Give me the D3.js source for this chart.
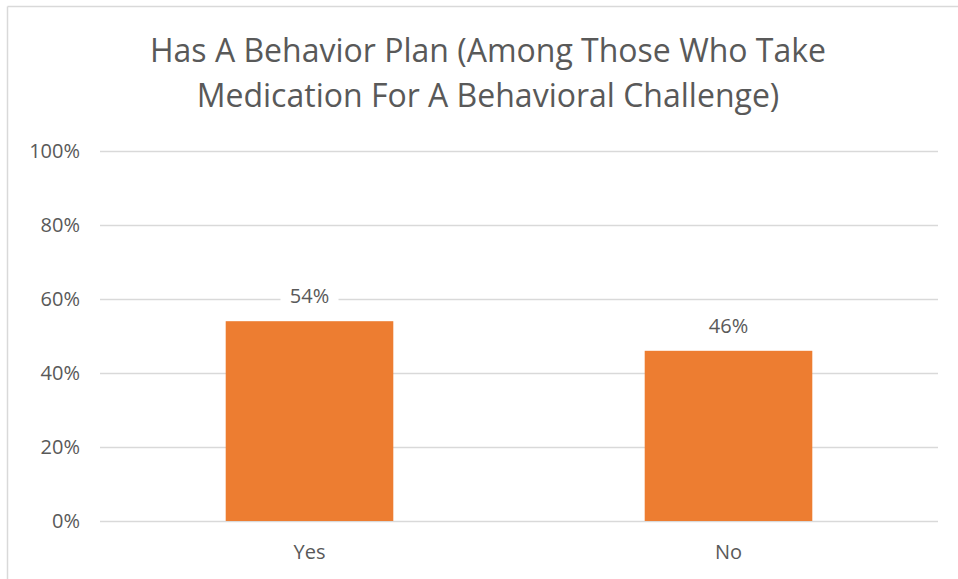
<!DOCTYPE html>
<html><head><meta charset="utf-8">
<script src="https://cdn.jsdelivr.net/npm/d3@7"></script>
<style>
html,body{margin:0;padding:0;background:#fff;}
svg{display:block;font-family:"Open Sans","Lato",sans-serif;}
</style></head>
<body>
<svg id="chart" width="958" height="579"></svg>
<script>
const categories = ["Yes", "No"];
const values = [0.54, 0.46];
const labels = ["54%", "46%"];
const yTicks = [0, 0.2, 0.4, 0.6, 0.8, 1.0];
const titleLines = ["Has A Behavior Plan (Among Those Who Take", "Medication For A Behavioral Challenge)"];

const svg = d3.select("#chart");
const textColor = "#595959";

// chart border (top and left visible)
svg.append("line").attr("x1",7.5).attr("x2",958).attr("y1",6.5).attr("y2",6.5).attr("stroke","#d9d9d9").attr("stroke-width",1.5);
svg.append("line").attr("x1",7.5).attr("x2",7.5).attr("y1",6.5).attr("y2",579).attr("stroke","#d9d9d9").attr("stroke-width",1.5);

const x = d3.scaleBand().domain(categories).range([100, 938]).paddingInner(0.6).paddingOuter(0.3);
const y = d3.scaleLinear().domain([0,1]).range([521, 151]);

// title
const title = svg.append("text").attr("text-anchor","middle").attr("fill",textColor).style("font-size","32px");
titleLines.forEach((t,i)=>{
  title.append("tspan").attr("x",488).attr("y", 62 + i*45).text(t);
});

// gridlines
const grid = svg.append("g");
grid.selectAll("line").data(yTicks).join("line")
  .attr("x1",100).attr("x2",938)
  .attr("y1",d=>y(d)+0.5).attr("y2",d=>y(d)+0.5)
  .attr("stroke","#d9d9d9").attr("stroke-width",1.5);

// y axis labels
const yAxis = d3.axisLeft(y).tickValues(yTicks).tickFormat(d3.format(".0%")).tickSize(0).tickPadding(20);
const ya = svg.append("g").attr("transform","translate(100,0)").call(yAxis);
ya.select(".domain").remove();
ya.selectAll("text").attr("fill",textColor).style("font-size","20px").style("font-family","'Open Sans',sans-serif");

// bars
svg.append("g").selectAll("rect").data(values).join("rect")
  .attr("x",(d,i)=>x(categories[i]))
  .attr("width",x.bandwidth())
  .attr("y",d=>y(d))
  .attr("height",d=>y(0)-y(d))
  .attr("fill","#ed7d31");

// data labels with white background
const lab = svg.append("g").selectAll("g").data(values).join("g")
  .attr("transform",(d,i)=>`translate(${x(categories[i])+x.bandwidth()/2},${y(d)-18})`);
lab.append("rect").attr("x",-29).attr("y",-17).attr("width",58).attr("height",24).attr("fill","#fff");
lab.append("text").attr("text-anchor","middle").attr("fill",textColor).style("font-size","20px")
  .attr("y",0).text((d,i)=>labels[i]);

// x axis labels
const xAxis = d3.axisBottom(x).tickSize(0).tickPadding(24);
const xa = svg.append("g").attr("transform","translate(0,521)").call(xAxis);
xa.select(".domain").remove();
xa.selectAll("text").attr("fill",textColor).style("font-size","20px").style("font-family","'Open Sans',sans-serif");
</script>
</body></html>
